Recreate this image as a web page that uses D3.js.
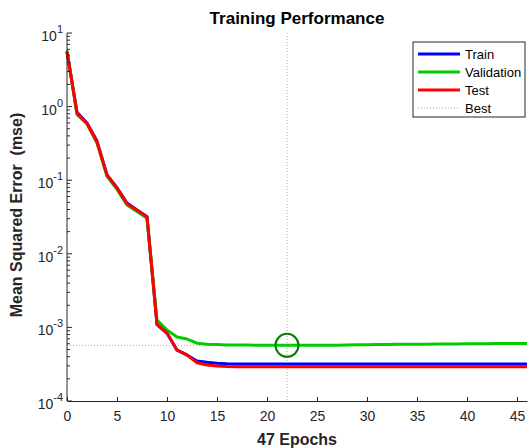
<!DOCTYPE html>
<html>
<head>
<meta charset="utf-8">
<script src="https://cdn.jsdelivr.net/npm/d3@7"></script>
<style>
  body { margin: 0; background: #fff; }
  svg { display: block; font-family: "Liberation Sans", Arial, sans-serif; }
</style>
</head>
<body>
<div id="chart"></div>
<script>
// values
var epochs = d3.range(0, 47);
var train = [5.6, 0.84, 0.6, 0.34, 0.118, 0.079, 0.049, 0.0395, 0.032, 0.00109, 0.00083, 0.00049,
    0.000422, 0.00035, 0.000335, 0.000325, 0.00032, 0.000319, 0.000318, 0.000318, 0.000318, 0.000318,
    0.000318, 0.000318, 0.000318, 0.000318, 0.000318, 0.000318, 0.000318, 0.000318, 0.000318, 0.000318,
    0.000318, 0.000318, 0.000318, 0.000318, 0.000318, 0.000318, 0.000318, 0.000318, 0.000318, 0.000318,
    0.000318, 0.000318, 0.000318, 0.000318, 0.000318];
var validation = [5.8, 0.78, 0.58, 0.32, 0.113, 0.075, 0.046, 0.0375, 0.0305, 0.00126, 0.00092, 0.00074,
    0.000695, 0.00061, 0.00059, 0.000585, 0.000578, 0.000576, 0.000575, 0.000574, 0.000573, 0.000572,
    0.00057, 0.000571, 0.000572, 0.000572, 0.000573, 0.000574, 0.000576, 0.000579, 0.000582, 0.000584,
    0.000586, 0.000588, 0.00059, 0.000591, 0.000592, 0.000594, 0.000595, 0.000597, 0.000598, 0.0006,
    0.000601, 0.000602, 0.000603, 0.000604, 0.000605];
var test = [5.5, 0.82, 0.59, 0.33, 0.117, 0.078, 0.048, 0.039, 0.0318, 0.00111, 0.00084, 0.000493,
    0.00042, 0.000331, 0.000308, 0.000299, 0.000294, 0.000292, 0.000292, 0.000292, 0.000292, 0.000292,
    0.000292, 0.000292, 0.000292, 0.000292, 0.000292, 0.000292, 0.000292, 0.000292, 0.000292, 0.000292,
    0.000292, 0.000292, 0.000292, 0.000292, 0.000292, 0.000292, 0.000292, 0.000292, 0.000292, 0.000292,
    0.000292, 0.000292, 0.000292, 0.000292, 0.000292];
var bestEpoch = 22;
var bestValue = 0.00057;
var xTicks = [0, 5, 10, 15, 20, 25, 30, 35, 40, 45];
var yExponents = [-4, -3, -2, -1, 0, 1];
var seriesNames = ["Train", "Validation", "Test"];
var seriesColors = ["#0000ff", "#00cc00", "#ff0000"];

var totalWidth = 528,
    totalHeight = 448,
    mLeft = 67,
    mRight = 1,
    mTop = 33,
    mBottom = 47;
var width = totalWidth - mLeft - mRight,
    height = totalHeight - mTop - mBottom;
var axisColor = "#262626";
var bestColor = "#8cc48c";

var svg = d3.select("#chart").append("svg")
    .attr("width", totalWidth)
    .attr("height", totalHeight);

var xScale = d3.scaleLinear().domain([0, 46]).range([mLeft, mLeft + width]);
var yScale = d3.scaleLog().domain([1e-4, 10]).range([mTop + height, mTop]);

// best markers (dotted guide lines)
svg.append("line")
    .attr("x1", xScale(bestEpoch)).attr("x2", xScale(bestEpoch))
    .attr("y1", mTop).attr("y2", mTop + height)
    .attr("stroke", bestColor).attr("stroke-width", 1).attr("stroke-dasharray", "1,2");
svg.append("line")
    .attr("x1", mLeft).attr("x2", xScale(bestEpoch))
    .attr("y1", yScale(bestValue)).attr("y2", yScale(bestValue))
    .attr("stroke", bestColor).attr("stroke-width", 1).attr("stroke-dasharray", "1,2");

// series
var line = d3.line()
    .x(function(d, i) { return xScale(epochs[i]); })
    .y(function(d) { return yScale(d); });

[train, validation, test].forEach(function(s, k) {
    svg.append("path")
        .datum(s)
        .attr("d", line)
        .attr("fill", "none")
        .attr("stroke", seriesColors[k])
        .attr("stroke-width", 3)
        .attr("stroke-linejoin", "round");
});

svg.append("circle")
    .attr("cx", xScale(bestEpoch))
    .attr("cy", yScale(bestValue))
    .attr("r", 11.5)
    .attr("fill", "none")
    .attr("stroke", "#008000")
    .attr("stroke-width", 2);

// x axis
var xAxis = d3.axisBottom(xScale).tickValues(xTicks).tickSizeInner(-4).tickSizeOuter(0).tickPadding(10);
var gx = svg.append("g")
    .attr("transform", "translate(0," + (mTop + height) + ")")
    .call(xAxis);
gx.select(".domain").attr("stroke", axisColor);
gx.selectAll(".tick line").attr("stroke", axisColor);
gx.selectAll(".tick text").attr("fill", axisColor).attr("font-size", 14)
    .attr("font-family", "Liberation Sans, Arial, sans-serif");

// y axis, log ticks drawn by hand
var gy = svg.append("g");
gy.append("line")
    .attr("x1", mLeft).attr("x2", mLeft)
    .attr("y1", mTop).attr("y2", mTop + height)
    .attr("stroke", axisColor);

var minor = [];
yExponents.forEach(function(e) {
    if (e < 1) {
        for (var m = 2; m <= 9; m++) minor.push(m * Math.pow(10, e));
    }
});
gy.selectAll("line.minor").data(minor).enter().append("line")
    .attr("class", "minor")
    .attr("x1", mLeft).attr("x2", mLeft + 3)
    .attr("y1", function(d) { return yScale(d); })
    .attr("y2", function(d) { return yScale(d); })
    .attr("stroke", axisColor);

gy.selectAll("line.major").data(yExponents).enter().append("line")
    .attr("class", "major")
    .attr("x1", mLeft).attr("x2", mLeft + 5)
    .attr("y1", function(d) { return yScale(Math.pow(10, d)); })
    .attr("y2", function(d) { return yScale(Math.pow(10, d)); })
    .attr("stroke", axisColor);

var lbl = gy.selectAll("text.ylab").data(yExponents).enter().append("text")
    .attr("class", "ylab")
    .attr("x", mLeft - 4)
    .attr("y", function(d) { return yScale(Math.pow(10, d)) + 8; })
    .attr("text-anchor", "end")
    .attr("fill", axisColor)
    .attr("font-size", 14);
lbl.append("tspan").text("10");
lbl.append("tspan")
    .attr("dy", -8)
    .attr("font-size", 11)
    .text(function(d) { return d; });

// titles
svg.append("text")
    .attr("x", mLeft + width / 2)
    .attr("y", 24)
    .attr("text-anchor", "middle")
    .attr("font-size", 17)
    .attr("font-weight", "bold")
    .attr("fill", "#000")
    .text("Training Performance");

svg.append("text")
    .attr("x", mLeft + width / 2)
    .attr("y", 445)
    .attr("text-anchor", "middle")
    .attr("font-size", 16)
    .attr("font-weight", "bold")
    .attr("fill", axisColor)
    .text("47 Epochs");

svg.append("text")
    .attr("transform", "translate(22," + 215 + ") rotate(-90)")
    .attr("text-anchor", "middle")
    .attr("font-size", 16)
    .attr("font-weight", "bold")
    .attr("fill", axisColor)
    .attr("xml:space", "preserve")
    .text("Mean Squared Error  (mse)");

// legend
var legend = svg.append("g").attr("transform", "translate(413,42)");
legend.append("rect")
    .attr("width", 112).attr("height", 75)
    .attr("fill", "#fff").attr("stroke", axisColor).attr("stroke-width", 1);

var legendItems = seriesNames.concat(["Best"]);
legendItems.forEach(function(name, i) {
    var yy = 12 + i * 18;
    var ln = legend.append("line")
        .attr("x1", 5).attr("x2", 47)
        .attr("y1", yy).attr("y2", yy);
    if (i < 3) {
        ln.attr("stroke", seriesColors[i]).attr("stroke-width", 3);
    } else {
        ln.attr("stroke", bestColor).attr("stroke-width", 1).attr("stroke-dasharray", "1,2");
    }
    legend.append("text")
        .attr("x", 52)
        .attr("y", yy + 4.5)
        .attr("font-size", 13)
        .attr("fill", "#000")
        .text(name);
});
</script>
</body>
</html>
